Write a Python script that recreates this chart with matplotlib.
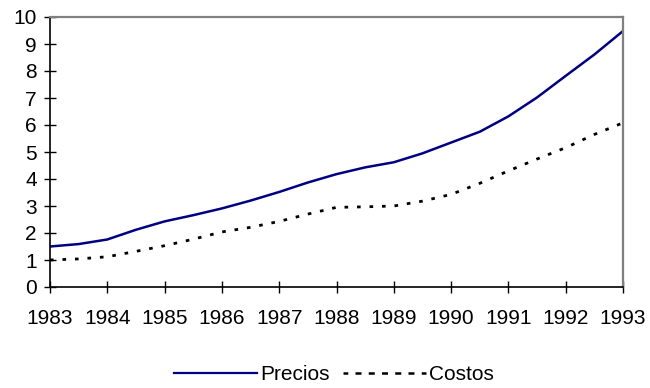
import matplotlib.pyplot as plt
from matplotlib.lines import Line2D

plt.rcParams['font.family'] = ['Liberation Sans', 'DejaVu Sans']

# half-year observations, 1983 to 1993
years = [1983.0, 1983.5, 1984.0, 1984.5, 1985.0, 1985.5, 1986.0, 1986.5,
         1987.0, 1987.5, 1988.0, 1988.5, 1989.0, 1989.5, 1990.0, 1990.5,
         1991.0, 1991.5, 1992.0, 1992.5, 1993.0]
precios = [1.50, 1.59, 1.76, 2.12, 2.43, 2.66, 2.91, 3.20, 3.52, 3.87, 4.18,
           4.43, 4.62, 4.95, 5.35, 5.75, 6.32, 7.02, 7.82, 8.61, 9.48]
costos = [1.00, 1.04, 1.12, 1.32, 1.53, 1.77, 2.04, 2.21, 2.43, 2.70, 2.95,
          2.97, 3.00, 3.18, 3.43, 3.84, 4.30, 4.74, 5.16, 5.65, 6.08]
year_ticks = list(range(1983, 1994))
y_ticks = list(range(0, 11))

fig = plt.figure(figsize=(6.5, 3.88), dpi=100)
ax = fig.add_axes([50/650, 1 - 287/388, 573/650, 270/388])

ax.plot(years, precios, color='#000080', lw=1.8, solid_joinstyle='round')
ax.plot(years, costos, color='black', lw=2.0, linestyle=(0, (1.3, 3.2)))

ax.set_xlim(1983, 1993)
ax.set_ylim(0, 10)
ax.set_xticks(year_ticks)
ax.set_yticks(y_ticks)
ax.tick_params(direction='inout', length=9, width=1, labelsize=15,
               colors='black')
ax.tick_params(axis='x', pad=11)
ax.tick_params(axis='y', pad=5)

for side in ('left', 'bottom'):
    ax.spines[side].set_color('black')
    ax.spines[side].set_linewidth(1.2)
for side in ('top', 'right'):
    ax.spines[side].set_color('#808080')
    ax.spines[side].set_linewidth(1.6)

handles = [
    Line2D([], [], color='#000080', lw=1.6),
    Line2D([], [], color='black', lw=1.8, linestyle=(0.5, (2.4, 2.9))),
]
fig.legend(handles, ['Precios', 'Costos'], loc='center',
           bbox_to_anchor=(334/650, 1 - 375/388), ncol=2, frameon=False,
           fontsize=15, handlelength=4.0, handletextpad=0.15,
           columnspacing=0.6, borderpad=0.2)

fig.savefig('out.png', dpi=100)
